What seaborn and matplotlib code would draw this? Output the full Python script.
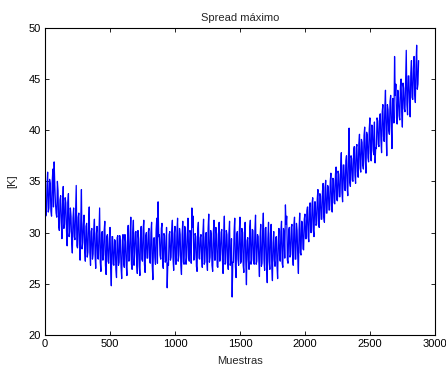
import numpy as np
import pandas as pd
import matplotlib
matplotlib.use("Agg")
import matplotlib.pyplot as plt
import seaborn as sns

title = "Spread máximo"
xlabel = "Muestras"
ylabel = "[K]"

# Spread readings at samples 0, 10, 20, ...
spread_a = [
    33.5, 31.8, 35.9, 32.4, 34.8, 31.6, 36.2, 36.9, 32.9, 31.5,
    34.1, 30.2, 33.6, 29.4, 34.5, 30.8, 32.9, 28.7, 33.8, 30.1,
    31.6, 28.0, 32.4, 29.3, 34.6, 28.5, 31.9, 27.3, 34.2, 29.0,
    31.7, 27.2, 30.9, 28.1, 32.5, 26.8, 30.4, 27.9, 31.3, 26.5,
    30.6, 27.4, 32.4, 26.2, 30.1, 27.8, 31.1, 25.9, 29.8, 27.0,
    30.5, 24.8, 29.6, 26.8, 29.2, 25.6, 29.7, 27.1, 28.9, 25.5,
    29.8, 26.6, 29.1, 25.8, 30.7, 27.3, 31.5, 26.4, 31.2, 28.0,
    30.1, 26.0, 29.4, 25.8, 30.6, 27.2, 31.2, 26.1, 30.0, 27.5,
    30.4, 27.0, 31.0, 25.4, 29.5, 26.9, 31.4, 33.0, 29.8, 27.4,
    30.9, 26.5, 29.7, 27.3, 24.6, 26.8, 30.1, 27.6, 31.2, 26.3,
    30.6, 26.9, 31.4, 27.8, 29.8, 25.9, 31.1, 26.9, 30.3, 27.6,
    31.4, 27.2, 30.0, 32.4, 31.6, 27.5, 29.6, 26.2, 31.0, 27.4,
    29.8, 26.6, 31.3, 27.1, 30.0, 26.3, 31.8, 27.6, 29.7, 26.2,
    31.2, 27.3, 29.9, 26.6, 31.0, 27.8, 30.3, 26.0, 31.6, 27.0,
    29.8, 26.4, 31.1, 27.2, 23.7, 27.1, 31.4, 25.6, 30.1, 26.8,
    31.5, 27.2, 30.0, 26.1, 31.0, 24.9, 29.5, 26.4, 31.2, 27.3,
    30.2, 26.9, 31.7, 27.2, 29.6, 25.7, 30.8, 27.0, 31.9, 26.3,
    30.5, 25.1, 31.0, 26.4, 30.8, 25.3, 30.1, 26.7, 29.6, 25.5,
    30.4, 27.2, 31.1, 26.6, 29.9, 32.7, 31.6, 27.0, 30.5, 27.8,
    30.8, 26.8, 31.5, 27.4, 30.2, 26.0, 31.9, 27.8, 31.0, 28.3,
    31.8, 29.4, 32.5, 29.1, 32.9, 30.0, 33.4, 29.6, 33.0, 30.8,
    34.2, 30.5, 33.6, 31.3, 34.8, 31.0, 35.1, 31.9, 34.4, 32.2,
    35.8, 32.0, 35.2, 32.8, 36.4, 33.1, 35.7, 33.5, 37.8, 33.0,
    36.6, 34.1, 37.5, 33.6, 40.2, 34.5, 37.2, 35.0, 38.4, 34.8,
    38.6, 35.4, 39.6, 35.9, 38.8, 36.2, 40.3, 35.8, 39.5, 36.9,
    41.2, 37.0, 40.4, 37.6, 36.8, 38.2, 40.9, 38.4, 41.6, 37.8,
    42.5, 38.9, 43.9, 37.5, 42.0, 39.6, 43.4, 38.2, 43.0, 47.2,
    44.5, 40.6, 43.2, 41.0, 45.0, 40.3, 44.1, 41.8, 47.8, 41.5,
    45.3, 41.3, 46.8, 43.0, 47.2, 42.7, 48.3, 44.5,
]
# Spread readings at samples 5, 15, 25, ...
spread_b = [
    31.6, 34.6, 32.0, 35.2, 32.1, 34.9, 32.5, 34.7, 31.9, 35.0,
    30.6, 33.2, 31.0, 32.8, 30.4, 33.4, 30.2, 32.9, 29.6, 32.4,
    29.0, 31.4, 29.6, 32.1, 28.7, 31.5, 28.9, 31.2, 28.4, 30.8,
    28.2, 30.6, 27.6, 30.9, 28.0, 30.1, 27.4, 30.3, 27.8, 29.9,
    27.5, 30.1, 27.1, 29.9, 27.3, 30.2, 26.8, 29.6, 27.2, 29.4,
    26.7, 29.6, 26.9, 29.3, 26.4, 29.5, 26.8, 29.7, 26.6, 29.2,
    27.0, 29.8, 26.8, 29.5, 27.2, 29.9, 26.9, 30.1, 26.8, 30.0,
    27.1, 30.2, 26.7, 29.8, 27.4, 30.3, 26.9, 29.7, 27.5, 30.1,
    27.2, 30.0, 26.8, 29.4, 27.6, 30.3, 27.0, 29.6, 27.8, 30.4,
    26.9, 29.9, 27.1, 30.5, 27.0, 29.8, 27.3, 30.2, 27.4, 29.9,
    26.9, 30.1, 27.2, 30.4, 26.8, 29.8, 27.1, 30.6, 26.9, 29.9,
    27.6, 30.2, 27.0, 30.5, 27.3, 29.9, 26.7, 30.3, 27.5, 29.5,
    27.8, 30.0, 26.9, 29.6, 27.2, 30.4, 27.1, 30.2, 26.8, 29.9,
    27.3, 30.5, 26.7, 29.8, 27.2, 30.0, 27.4, 29.6, 26.9, 30.2,
    27.3, 29.9, 26.8, 29.4, 27.1, 30.1, 26.7, 29.8, 27.4, 30.0,
    27.0, 30.4, 26.8, 30.0, 27.2, 29.2, 27.3, 30.4, 26.9, 30.3,
    27.1, 30.2, 26.9, 29.8, 27.4, 29.6, 26.7, 30.1, 27.3, 30.4,
    26.8, 29.4, 27.2, 29.9, 26.6, 29.0, 27.3, 29.5, 26.8, 29.2,
    27.7, 30.1, 27.0, 30.4, 27.5, 30.8, 27.3, 30.2, 27.6, 30.5,
    27.9, 30.7, 27.4, 30.9, 27.6, 30.3, 28.0, 31.1, 28.4, 31.3,
    29.4, 32.1, 29.6, 32.5, 30.0, 32.8, 30.2, 33.0, 30.7, 33.3,
    31.1, 33.8, 31.3, 34.0, 31.5, 34.4, 31.9, 34.6, 32.2, 35.0,
    32.6, 35.3, 32.9, 35.7, 33.2, 36.0, 33.5, 36.3, 33.9, 36.6,
    34.2, 37.0, 34.4, 37.3, 34.9, 37.5, 35.1, 38.0, 35.6, 38.3,
    35.9, 38.7, 36.3, 39.1, 36.6, 39.5, 37.0, 39.8, 37.3, 40.1,
    37.7, 40.5, 38.0, 40.8, 38.3, 41.2, 38.6, 41.4, 39.0, 41.8,
    39.4, 42.2, 39.6, 42.5, 40.0, 42.8, 40.3, 43.1, 40.7, 43.4,
    41.2, 43.9, 41.4, 44.3, 41.8, 44.6, 42.1, 45.0, 42.5, 45.3,
    42.8, 45.6, 43.2, 46.0, 43.5, 46.4, 44.0, 46.8,
]
sample_step = 10

xticks = [0, 500, 1000, 1500, 2000, 2500, 3000]
yticks = [20, 25, 30, 35, 40, 45, 50]

samples_a = np.arange(len(spread_a)) * sample_step
samples_b = np.arange(len(spread_b)) * sample_step + sample_step // 2
df = pd.DataFrame({
    "Muestras": np.concatenate([samples_a, samples_b]),
    "Spread": np.concatenate([spread_a, spread_b]),
}).sort_values("Muestras").reset_index(drop=True)

sns.set_theme(style="white")
plt.rcParams["font.family"] = ["Liberation Sans", "DejaVu Sans"]

fig = plt.figure(figsize=(4.46, 3.66), dpi=100)
ax = fig.add_axes([0.101, 0.085, 0.874, 0.839])
sns.lineplot(data=df, x="Muestras", y="Spread", ax=ax, color="#0000ff",
             linewidth=0.9, estimator=None, sort=True)

ax.set_xlim(0, 3000)
ax.set_ylim(20, 50)
ax.set_xticks(xticks)
ax.set_yticks(yticks)
ax.tick_params(direction="in", length=3, width=0.6, labelsize=8, colors="black",
               top=True, right=True, bottom=True, left=True, pad=3)
for s in ax.spines.values():
    s.set_color("black")
    s.set_linewidth(0.8)
ax.set_title(title, fontsize=8, pad=5)
ax.set_xlabel(xlabel, fontsize=8, labelpad=5)
ax.set_ylabel(ylabel, fontsize=8, labelpad=8)

fig.savefig("out.png", dpi=100)
